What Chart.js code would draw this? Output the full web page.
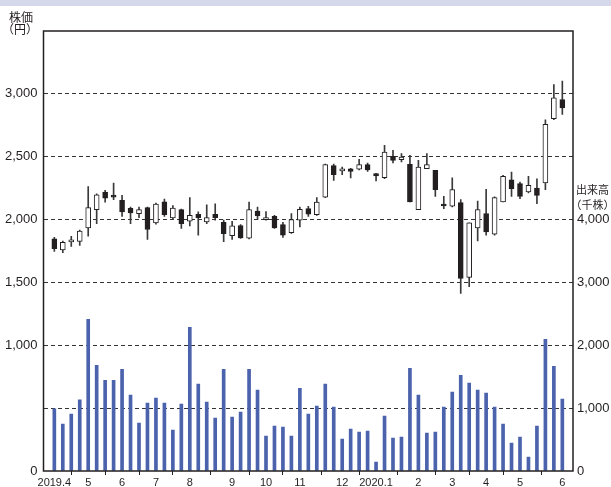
<!DOCTYPE html>
<html lang="ja">
<head>
<meta charset="utf-8">
<title>株価と出来高</title>
<script src="https://cdn.jsdelivr.net/npm/chart.js@4"></script>
<style>
  html, body { margin: 0; padding: 0; background: #fff; }
  #chart { display: block; }
</style>
</head>
<body>
<canvas id="chart" width="611" height="487"></canvas>
<script>
// weekly candles, 2019.4 - 2020.6
const monthStarts = [0, 4, 8, 12, 16, 21, 25, 29, 34, 38, 43, 47, 51, 55, 60];
const monthLabels = ['2019.4', '5', '6', '7', '8', '9', '10', '11', '12', '2020.1', '2', '3', '4', '5', '6'];

const openPrices = [1847, 1758, 1822, 1826, 1934, 2079, 2218, 2195, 2153, 2089, 2047, 2095, 1974, 2142, 2013, 2079,
  1987, 2042, 1982, 2042, 1979, 1871, 1953, 1853, 2068, 2000, 2026, 1961, 1895, 1995, 2087, 2039,
  2179, 2429, 2387, 2403, 2400, 2437, 2365, 2333, 2503, 2476, 2439, 2079, 2405, 2392, 2122, 2106,
  2135, 1540, 1934, 2048, 1884, 2140, 2317, 2286, 2220, 2251, 2291, 2802, 2955];
const highPrices = [1858, 1829, 1867, 1916, 2263, 2205, 2232, 2290, 2192, 2100, 2100, 2100, 2132, 2163, 2111, 2084,
  2174, 2061, 2118, 2126, 1995, 1987, 1961, 2139, 2100, 2063, 2034, 1979, 2047, 2100, 2105, 2174,
  2442, 2442, 2418, 2408, 2479, 2450, 2368, 2590, 2550, 2524, 2511, 2471, 2524, 2392, 2185, 2333,
  2159, 1974, 2148, 2241, 2180, 2352, 2378, 2299, 2344, 2325, 2794, 3074, 3101];
const lowPrices = [1747, 1737, 1786, 1795, 1868, 1968, 2139, 2158, 2026, 1968, 2016, 1842, 1963, 2026, 2000, 1929,
  1950, 1876, 1968, 1995, 1824, 1842, 1850, 1847, 2000, 1995, 1929, 1858, 1889, 1942, 2026, 2034,
  2174, 2311, 2358, 2332, 2395, 2384, 2307, 2325, 2450, 2458, 2140, 2079, 2405, 2185, 2087, 2101,
  1413, 1466, 1831, 1876, 1876, 2140, 2185, 2167, 2212, 2127, 2238, 2794, 2836];
const closePrices = [1768, 1818, 1830, 1908, 2095, 2197, 2171, 2179, 2061, 2053, 2079, 1921, 2124, 2039, 2092, 1968,
  2034, 2016, 2016, 2016, 1887, 1950, 1855, 2079, 2029, 2013, 1934, 1876, 2000, 2082, 2042, 2139,
  2437, 2358, 2392, 2384, 2437, 2395, 2347, 2537, 2471, 2497, 2140, 2418, 2437, 2238, 2108, 2238,
  1532, 1974, 2079, 1902, 2175, 2344, 2246, 2185, 2272, 2193, 2757, 2968, 2889];
// 出来高 (千株)
const volumes = [989, 746, 905, 1132, 2413, 1683, 1444, 1444, 1619, 1206, 762, 1079, 1159, 1079, 651, 1063,
  2286, 1381, 1095, 841, 1619, 857, 937, 1619, 1286, 556, 714, 698, 556, 1317, 905, 1032,
  1381, 1016, 508, 667, 619, 635, 143, 873, 524, 540, 1635, 1206, 603, 619, 1016, 1254,
  1524, 1397, 1286, 1238, 1016, 746, 444, 540, 222, 714, 2095, 1667, 1143];

const ink = '#231f20';
const fmt = v => String(v).replace(/\B(?=(\d{3})+(?!\d))/g, ',');

const bodies = openPrices.map((o, i) => ({x: i, y: [Math.min(o, closePrices[i]), Math.max(o, closePrices[i])]}));
const bodyFill = openPrices.map((o, i) => closePrices[i] >= o ? '#ffffff' : ink);
const wicks = lowPrices.map((l, i) => ({x: i, y: [l, highPrices[i]]}));
const volPoints = volumes.map((v, i) => ({x: i, y: v}));

const frame = {
  id: 'frame',
  beforeDraw(chart) {
    const c = chart.ctx;
    c.save();
    c.fillStyle = '#d5d7ea';
    c.fillRect(0, 0, chart.width, 6);
    c.restore();
  },
  afterDraw(chart) {
    const {ctx: c, chartArea: a} = chart;
    c.save();
    c.setLineDash([]);
    c.strokeStyle = ink;
    c.lineWidth = 1.5;
    c.strokeRect(a.left, a.top, a.right - a.left, a.bottom - a.top);
    c.fillStyle = ink;
    c.textAlign = 'center';
    c.textBaseline = 'middle';
    c.font = '12px "Noto Sans CJK JP"';
    c.fillText('株価', 21, 17);
    c.fillText('（円）', 20, 29);
    c.font = '11px "Noto Sans CJK JP"';
    c.fillText('出来高', 592.5, 190);
    c.fillText('（千株）', 592.5, 205);
    c.restore();
  }
};

Chart.defaults.font.family = '"Liberation Sans", Arial, sans-serif';
Chart.defaults.color = ink;

new Chart(document.getElementById('chart').getContext('2d'), {
  type: 'bar',
  data: {
    datasets: [
      {
        data: bodies,
        yAxisID: 'y',
        grouped: false,
        barThickness: 5,
        minBarLength: 2,
        backgroundColor: bodyFill,
        borderColor: ink,
        borderWidth: 1,
        borderSkipped: false
      },
      {
        data: wicks,
        yAxisID: 'y',
        grouped: false,
        barThickness: 1,
        backgroundColor: '#3a3a3a'
      },
      {
        data: volPoints,
        yAxisID: 'yv',
        grouped: false,
        barThickness: 3,
        backgroundColor: '#4b62ad'
      }
    ]
  },
  options: {
    responsive: false,
    animation: false,
    layout: { padding: { top: 31, left: 0, right: 0, bottom: 0 } },
    plugins: {
      legend: { display: false },
      tooltip: { enabled: false }
    },
    scales: {
      x: {
        type: 'linear',
        min: -1.28,
        max: 61.26,
        offset: false,
        afterBuildTicks: s => { s.ticks = monthStarts.map(v => ({value: v})); },
        afterFit: s => { s.height = 16; },
        ticks: {
          autoSkip: false,
          maxRotation: 0,
          padding: 1,
          font: { size: 11 },
          callback: (v, i) => monthLabels[i]
        },
        grid: { drawOnChartArea: false, tickLength: 4, color: ink, lineWidth: 1 },
        border: { display: false }
      },
      y: {
        position: 'left',
        min: 0,
        max: 3500,
        afterFit: s => { s.width = 43.5; },
        ticks: {
          stepSize: 500,
          padding: 6,
          font: { size: 13 },
          callback: v => (v === 500 || v === 3500) ? '' : fmt(v)
        },
        grid: {
          drawTicks: false,
          lineWidth: 1,
          color: c => (c.tick && (c.tick.value === 0 || c.tick.value === 3500)) ? 'rgba(0,0,0,0)' : '#333333'
        },
        border: { display: false, dash: [4, 3] }
      },
      yv: {
        position: 'right',
        min: 0,
        max: 7000,
        afterFit: s => { s.width = 38; },
        ticks: {
          stepSize: 1000,
          padding: 4,
          font: { size: 13 },
          callback: v => v <= 4000 ? fmt(v) : ''
        },
        grid: { drawOnChartArea: false, drawTicks: false },
        border: { display: false }
      }
    }
  },
  plugins: [frame]
});
</script>
</body>
</html>
